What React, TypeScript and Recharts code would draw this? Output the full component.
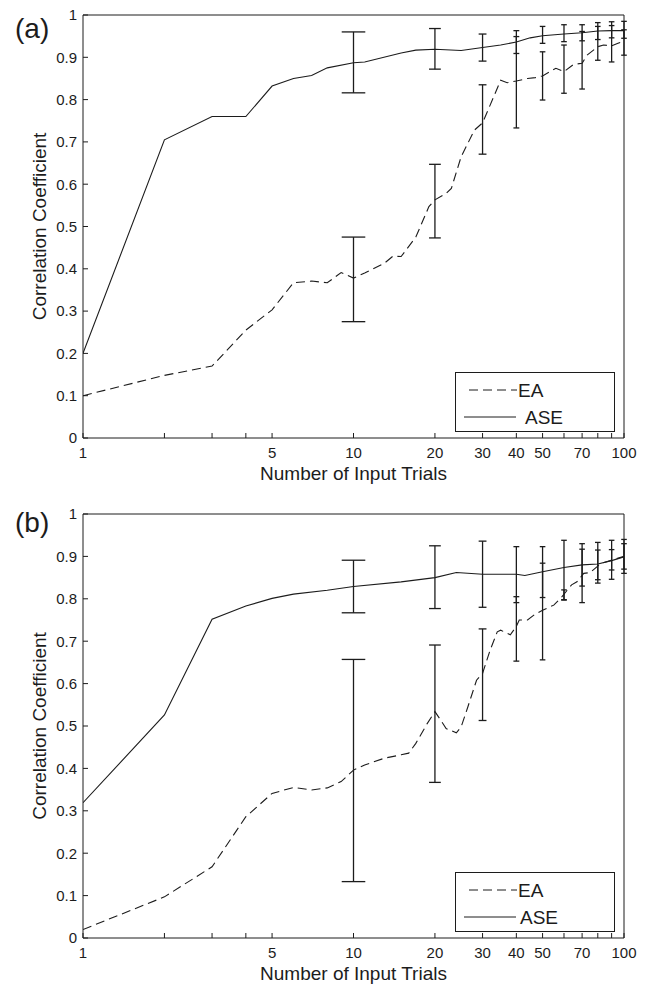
import React from 'react';
import { ComposedChart, Line, Scatter, ErrorBar, XAxis, YAxis, Legend } from 'recharts';

const INK = '#1c1c1c';
const FONT = '"Liberation Sans", Arial, Helvetica, sans-serif';
const PX_PER_DECADE = 270.5;

const X_TICKS = [1, 2, 3, 4, 5, 10, 20, 30, 40, 50, 60, 70, 80, 90, 100];
const X_LABELED = [1, 5, 10, 20, 30, 40, 50, 70, 100];
const Y_TICKS = [0, 0.1, 0.2, 0.3, 0.4, 0.5, 0.6, 0.7, 0.8, 0.9, 1];
const ERR_X = [10, 20, 30, 40, 50, 60, 70, 80, 90, 100];

// panel (a)
const A_ASE_X = [1, 2, 3, 4, 5, 6, 7, 8, 10, 11, 15, 17, 20, 25, 30, 35, 40, 45, 50, 60, 70, 80, 90, 100];
const A_ASE_Y = [0.2, 0.705, 0.76, 0.76, 0.832, 0.85, 0.857, 0.875, 0.887, 0.889, 0.91, 0.917, 0.919, 0.916, 0.923, 0.929, 0.936, 0.946, 0.951, 0.955, 0.958, 0.962, 0.963, 0.963];
const A_EA_X = [1, 2, 3, 4, 5, 6, 7, 8, 9, 10, 11, 13, 14, 15, 17, 19, 20, 22, 23, 25, 28, 30, 33, 35, 37, 40, 44, 47, 50, 56, 60, 65, 70, 73, 80, 84, 90, 95, 100];
const A_EA_Y = [0.1, 0.148, 0.17, 0.255, 0.303, 0.367, 0.371, 0.367, 0.391, 0.378, 0.39, 0.413, 0.43, 0.429, 0.475, 0.547, 0.563, 0.578, 0.59, 0.665, 0.728, 0.745, 0.807, 0.846, 0.84, 0.844, 0.85, 0.852, 0.856, 0.874, 0.866, 0.883, 0.886, 0.905, 0.925, 0.929, 0.927, 0.933, 0.939];
const A_ASE_MEAN = [0.888, 0.92, 0.923, 0.936, 0.953, 0.957, 0.958, 0.962, 0.965, 0.965];
const A_ASE_ERR = [0.072, 0.048, 0.032, 0.027, 0.02, 0.02, 0.019, 0.02, 0.019, 0.02];
const A_EA_MEAN = [0.375, 0.56, 0.753, 0.841, 0.856, 0.872, 0.893, 0.933, 0.932, 0.935];
const A_EA_ERR = [0.1, 0.087, 0.082, 0.108, 0.057, 0.057, 0.068, 0.04, 0.043, 0.03];

// panel (b)
const B_ASE_X = [1, 2, 3, 4, 5, 6, 8, 10, 15, 20, 24, 30, 40, 43, 50, 60, 70, 80, 90, 100];
const B_ASE_Y = [0.319, 0.526, 0.752, 0.783, 0.801, 0.811, 0.82, 0.829, 0.84, 0.85, 0.862, 0.858, 0.858, 0.855, 0.864, 0.874, 0.88, 0.882, 0.89, 0.899];
const B_EA_X = [1, 2, 3, 4, 5, 6, 7, 8, 9, 10, 11, 13, 15, 16, 17, 18.7, 20, 21, 22, 24, 25, 26.5, 28.5, 30, 32, 34, 35, 38, 40, 41, 44, 47, 50, 55, 59, 64, 67, 71, 75, 82, 91, 100];
const B_EA_Y = [0.02, 0.097, 0.168, 0.286, 0.341, 0.355, 0.349, 0.354, 0.369, 0.396, 0.408, 0.424, 0.432, 0.436, 0.459, 0.505, 0.534, 0.514, 0.494, 0.484, 0.498, 0.546, 0.608, 0.624, 0.679, 0.722, 0.726, 0.715, 0.735, 0.75, 0.75, 0.764, 0.773, 0.785, 0.805, 0.833, 0.84, 0.86, 0.862, 0.883, 0.892, 0.9];
const B_ASE_MEAN = [0.829, 0.851, 0.858, 0.857, 0.863, 0.868, 0.88, 0.885, 0.892, 0.9];
const B_ASE_ERR = [0.062, 0.074, 0.078, 0.066, 0.06, 0.07, 0.05, 0.048, 0.046, 0.04];
const B_EA_MEAN = [0.395, 0.529, 0.621, 0.729, 0.77, 0.809, 0.854, 0.88, 0.892, 0.9];
const B_EA_ERR = [0.262, 0.162, 0.108, 0.076, 0.114, 0.012, 0.063, 0.035, 0.024, 0.03];

const toPoints = (xs: number[], ys: number[]) => xs.map((x, i) => ({ x, y: ys[i] }));
const toBars = (means: number[], errs: number[]) => ERR_X.map((x, i) => ({ x, y: means[i], err: errs[i] }));

// matlab-style tee: +-1 data unit, so caps shrink along the log axis
const capHalf = (x: number) =>
  Math.max(2.8, ((Math.log10(x + 1) - Math.log10(x - 1)) / 2) * PX_PER_DECADE);

const noShape = () => <g />;

const yFmt = (v: number) => (v === 0 ? '0' : v === 1 ? '1' : v.toFixed(1));
const xFmt = (v: number) => (X_LABELED.includes(v) ? String(v) : '');

function LegendBox({ aseTextX }: { aseTextX: number }) {
  return (
    <svg width={160} height={60} style={{ display: 'block' }}>
      <rect x={0.5} y={0.5} width={159} height={59} fill="#fff" stroke={INK} />
      <line x1={14} x2={62} y1={18} y2={18} stroke={INK} strokeDasharray="9 5" />
      <text x={63} y={18} dominantBaseline="central" fontSize={19} fontFamily={FONT} fill={INK}>EA</text>
      <line x1={9} x2={61} y1={45} y2={45} stroke={INK} />
      <text x={aseTextX} y={45} dominantBaseline="central" fontSize={19} fontFamily={FONT} fill={INK}>ASE</text>
    </svg>
  );
}

interface PanelProps {
  tag: string;
  top: number;
  tagTop: number;
  plotTop: number;
  xAxisHeight: number;
  xLabelOffset: number;
  ase: { x: number; y: number }[];
  ea: { x: number; y: number }[];
  aseBars: { x: number; y: number; err: number }[];
  eaBars: { x: number; y: number; err: number }[];
  aseTextX: number;
}

function Panel(p: PanelProps) {
  const H = 492;
  const tickStyle = { fill: INK, fontSize: 15, fontFamily: FONT };
  return (
    <div style={{ position: 'absolute', left: 0, top: p.top, width: 651, height: H }}>
      <div style={{ position: 'absolute', left: 15, top: p.tagTop, fontSize: 28, lineHeight: 1, fontFamily: FONT, color: INK, zIndex: 2 }}>
        {p.tag}
      </div>
      <ComposedChart width={651} height={H} margin={{ top: p.plotTop - 1, right: 26, bottom: 0, left: 0 }}>
        <XAxis
          dataKey="x" type="number" scale="log" domain={[1, 100]} allowDataOverflow
          ticks={X_TICKS} interval={0} tickFormatter={xFmt}
          tickSize={-5} tickMargin={14} height={p.xAxisHeight}
          stroke={INK} tick={tickStyle}
          label={{ value: 'Number of Input Trials', position: 'insideBottom', offset: p.xLabelOffset, fill: INK, fontSize: 19, fontFamily: FONT }}
        />
        <XAxis
          xAxisId="top" orientation="top" type="number" scale="log" domain={[1, 100]} allowDataOverflow
          ticks={X_TICKS} interval={0} tick={false} tickSize={-5} height={1} stroke={INK}
        />
        <YAxis
          type="number" domain={[0, 1]} allowDataOverflow ticks={Y_TICKS} interval={0}
          tickFormatter={yFmt} width={83} tickSize={-5} tickMargin={11}
          stroke={INK} tick={tickStyle}
          label={{ value: 'Correlation Coefficient', angle: -90, position: 'insideLeft', offset: 39, fill: INK, fontSize: 19, fontFamily: FONT, style: { textAnchor: 'middle' } }}
        />
        <YAxis
          yAxisId="right" orientation="right" type="number" domain={[0, 1]} allowDataOverflow
          ticks={Y_TICKS} interval={0} tick={false} tickSize={-5} width={1} stroke={INK}
        />
        <Line data={p.ea} dataKey="y" name="EA" stroke={INK} strokeWidth={1.1} strokeDasharray="9 5" dot={false} isAnimationActive={false} />
        <Line data={p.ase} dataKey="y" name="ASE" stroke={INK} strokeWidth={1.1} dot={false} isAnimationActive={false} />
        {[...p.aseBars, ...p.eaBars].map((b, i) => (
          <Scatter key={i} data={[b]} dataKey="y" shape={noShape} legendType="none" isAnimationActive={false}>
            <ErrorBar dataKey="err" direction="y" width={capHalf(b.x)} stroke={INK} strokeWidth={1.3} isAnimationActive={false} />
          </Scatter>
        ))}
        <Legend
          layout="horizontal" verticalAlign="middle" align="center"
          wrapperStyle={{ left: 455, top: H - p.xAxisHeight - 66, width: 160, height: 60 }}
          content={() => <LegendBox aseTextX={p.aseTextX} />}
        />
      </ComposedChart>
    </div>
  );
}

export default function App() {
  return (
    <div style={{ position: 'absolute', left: 0, top: 0, width: 651, height: 984, background: '#fff' }}>
      <Panel
        tag="(a)" top={0} tagTop={15} plotTop={15} xAxisHeight={54} xLabelOffset={12}
        ase={toPoints(A_ASE_X, A_ASE_Y)} ea={toPoints(A_EA_X, A_EA_Y)}
        aseBars={toBars(A_ASE_MEAN, A_ASE_ERR)} eaBars={toBars(A_EA_MEAN, A_EA_ERR)}
        aseTextX={70}
      />
      <Panel
        tag="(b)" top={492} tagTop={17} plotTop={22} xAxisHeight={46} xLabelOffset={4}
        ase={toPoints(B_ASE_X, B_ASE_Y)} ea={toPoints(B_EA_X, B_EA_Y)}
        aseBars={toBars(B_ASE_MEAN, B_ASE_ERR)} eaBars={toBars(B_EA_MEAN, B_EA_ERR)}
        aseTextX={65}
      />
    </div>
  );
}
